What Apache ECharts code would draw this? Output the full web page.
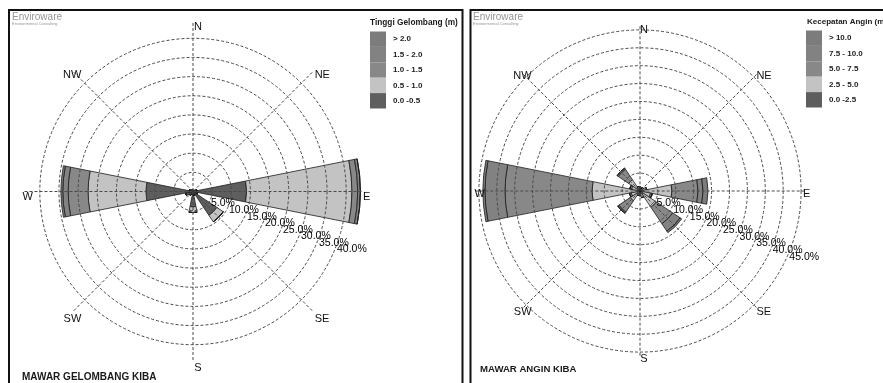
<!DOCTYPE html>
<html>
<head>
<meta charset="utf-8">
<script src="https://cdn.jsdelivr.net/npm/echarts@6/dist/echarts.min.js"></script>
<style>
html, body { margin: 0; padding: 0; background: #ffffff; }
#chart { width: 883px; height: 383px; }
</style>
</head>
<body>
<div id="chart"></div>
<script>
// 16 compass sectors, clockwise from north
const directions = ['N', 'NNE', 'NE', 'ENE', 'E', 'ESE', 'SE', 'SSE', 'S', 'SSW', 'SW', 'WSW', 'W', 'WNW', 'NW', 'NNW'];

// Wave height classes (m) and frequency per sector (%)
const waveClasses = ['0.0 -0.5', '0.5 - 1.0', '1.0 - 1.5', '1.5 - 2.0', '> 2.0'];
const wave00_05 = [0.3, 0.3, 0.4, 1.0, 14.0, 1.2, 7.5, 1.0, 4.0, 0.8, 1.2, 2.0, 12.3, 1.0, 0.6, 0.4];
const wave05_10 = [0, 0, 0, 0, 27.5, 0, 2.0, 0, 1.5, 0, 0, 0, 15.1, 0, 0, 0];
const wave10_15 = [0, 0, 0, 0, 1.5, 0, 0, 0, 0, 0, 0, 0, 5.2, 0, 0, 0];
const wave15_20 = [0, 0, 0, 0, 0.7, 0, 0, 0, 0, 0, 0, 0, 1.4, 0, 0, 0];
const wave20_up = [0, 0, 0, 0, 0, 0, 0, 0, 0, 0, 0, 0, 0.5, 0, 0, 0];

// Wind speed classes (m/s) and frequency per sector (%)
const windClasses = ['0.0 -2.5', '2.5 - 5.0', '5.0 - 7.5', '7.5 - 10.0', '> 10.0'];
const wind00_25 = [0.3, 0.3, 0.3, 0.4, 0.8, 0.5, 0.5, 0.4, 0.3, 0.3, 0.3, 0.5, 0.6, 0.4, 0.3, 0.3];
const wind25_50 = [0.8, 0.6, 0.8, 1.5, 8.1, 2.5, 5.0, 1.5, 1.0, 1.0, 3.0, 2.0, 12.8, 2.0, 3.5, 1.0];
const wind50_75 = [0, 0, 0, 0, 7.3, 0.5, 5.5, 0, 0, 0, 3.8, 0.5, 24.3, 0.5, 3.5, 0];
const wind75_100 = [0, 0, 0, 0, 1.4, 0, 2.5, 0, 0, 0, 0.4, 0, 5.6, 0, 0.4, 0];
const wind100_up = [0, 0, 0, 0, 1.4, 0, 0.5, 0, 0, 0, 0, 0, 0.6, 0, 0, 0];

// Ring scales (%)
const ringStep = 5;
const waveRingMax = 40;
const windRingMax = 45;

const classColors = ['#5e5e5e', '#c3c3c3', '#888888', '#828282', '#7c7c7c'];
const sans = '"Liberation Sans", Arial, sans-serif';

// Panel geometry
const panels = [
  { cx: 193, cy: 191.5, pxPerPct: 3.83, ringMax: waveRingMax, barMax: 44, labelAngle: -20,
    compass: { cx: 198, cy: 197, r: 165 },
    classes: waveClasses, values: [wave00_05, wave05_10, wave10_15, wave15_20, wave20_up], stack: 'wave' },
  { cx: 640, cy: 191, pxPerPct: 3.58, ringMax: windRingMax, barMax: 46, labelAngle: -22,
    compass: { cx: 644, cy: 194, r: 159 },
    classes: windClasses, values: [wind00_25, wind25_50, wind50_75, wind75_100, wind100_up], stack: 'wind' }
];

const dashed = { color: '#4a4a4a', width: 1, type: [3, 2] };
const ringLabel = {
  showMinLabel: false, margin: 0, align: 'left', verticalAlign: 'top',
  fontFamily: sans, fontSize: 10.5, color: '#000',
  formatter: v => v.toFixed(1) + '%'
};

const polar = [], radiusAxis = [], angleAxis = [], series = [];
panels.forEach((p) => {
  const ringR = p.ringMax * p.pxPerPct;

  // dashed rings with their percentage labels
  let idx = polar.length;
  polar.push({ center: [p.cx, p.cy], radius: ringR });
  radiusAxis.push({
    polarIndex: idx, type: 'value', min: 0, max: p.ringMax, interval: ringStep, z: 5,
    axisLine: { show: false }, axisTick: { show: false },
    axisLabel: Object.assign({}, ringLabel, { showMaxLabel: false }),
    splitLine: { show: true, lineStyle: dashed }
  });
  angleAxis.push({ polarIndex: idx, type: 'value', min: 0, max: 360, startAngle: p.labelAngle, show: false });

  // label of the outermost ring
  idx = polar.length;
  polar.push({ center: [p.cx, p.cy], radius: ringR });
  radiusAxis.push({
    polarIndex: idx, type: 'value', min: 0, max: p.ringMax, interval: p.ringMax, z: 5,
    axisLine: { show: false }, axisTick: { show: false }, splitLine: { show: false },
    axisLabel: Object.assign({}, ringLabel, { showMaxLabel: true })
  });
  angleAxis.push({ polarIndex: idx, type: 'value', min: 0, max: 360, startAngle: p.labelAngle, show: false });

  // sectors and the eight compass spokes
  const bi = polar.length;
  polar.push({ center: [p.cx, p.cy], radius: p.barMax * p.pxPerPct });
  radiusAxis.push({ polarIndex: bi, type: 'value', min: 0, max: p.barMax, show: false });
  angleAxis.push({
    polarIndex: bi, type: 'category', data: directions, boundaryGap: false, startAngle: 90, z: 5,
    axisLine: { show: false }, axisTick: { show: false, interval: 1 },
    axisLabel: { show: true, interval: 1, formatter: () => '' },
    splitLine: { show: true, interval: 1, lineStyle: dashed }
  });
  p.classes.forEach((name, i) => {
    series.push({
      type: 'bar', coordinateSystem: 'polar', polarIndex: bi, name: name, stack: p.stack,
      data: p.values[i], barWidth: '100%', z: 2,
      itemStyle: { color: classColors[i], borderColor: '#1c1c1c', borderWidth: 0.8 }
    });
  });

  // compass point names
  idx = polar.length;
  polar.push({ center: [p.compass.cx, p.compass.cy], radius: p.compass.r });
  radiusAxis.push({ polarIndex: idx, type: 'value', min: 0, max: p.barMax, show: false });
  angleAxis.push({
    polarIndex: idx, type: 'category', data: directions, boundaryGap: false, startAngle: 90, z: 6,
    axisLine: { show: false }, axisTick: { show: false }, splitLine: { show: false }, splitArea: { show: false },
    axisLabel: { interval: 1, margin: 0, fontFamily: sans, fontSize: 11, color: '#111' }
  });
});

const legendBase = {
  orient: 'vertical', padding: 0, itemWidth: 16, itemHeight: 15.4, itemGap: 0, icon: 'rect',
  selectedMode: false, itemStyle: { borderWidth: 0 },
  textStyle: { fontFamily: sans, fontSize: 8, fontWeight: 'bold', color: '#222', padding: [0, 0, 0, 2] }
};

const titleText = (text, left, top, size, extra) => Object.assign({
  text: text, left: left, top: top, padding: 0,
  textStyle: Object.assign({ fontFamily: sans, fontSize: size, fontWeight: 'bold', color: '#1a1a1a' }, extra || {})
});
const logo = (left) => Object.assign(
  titleText('Enviroware', left, 12, 10, { fontWeight: 'normal', color: '#959595' }),
  { subtext: 'Environmental Consulting', itemGap: 0, subtextStyle: { fontSize: 4, color: '#959595' } });

const chart = echarts.init(document.getElementById('chart'), null, { renderer: 'canvas' });
chart.setOption({
  animation: false,
  backgroundColor: '#ffffff',
  title: [
    titleText('Tinggi Gelombang (m)', 370, 19, 8.3),
    titleText('Kecepatan Angin (m/s)', 807, 18, 8),
    titleText('MAWAR GELOMBANG KIBA', 22, 372, 10),
    titleText('MAWAR ANGIN KIBA', 480, 364, 9.6),
    logo(12),
    logo(473)
  ],
  legend: [
    Object.assign({}, legendBase, { left: 370, top: 31.5, data: waveClasses.slice().reverse() }),
    Object.assign({}, legendBase, { left: 806, top: 30.5, data: windClasses.slice().reverse() })
  ],
  polar: polar,
  radiusAxis: radiusAxis,
  angleAxis: angleAxis,
  series: series,
  graphic: [
    { type: 'rect', shape: { x: 9, y: 10, width: 453.5, height: 400 }, style: { fill: 'none', stroke: '#111', lineWidth: 2 } },
    { type: 'rect', shape: { x: 470.5, y: 10, width: 430, height: 400 }, style: { fill: 'none', stroke: '#111', lineWidth: 2 } }
  ]
});
</script>
</body>
</html>
